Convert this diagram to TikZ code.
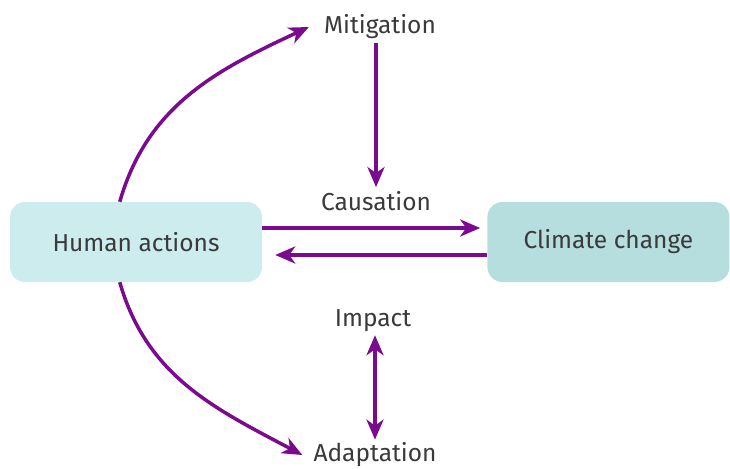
\documentclass[tikz,border=0pt]{standalone}
\usepackage{fontspec}
\setmainfont{Fira Sans}
\usepackage{tikz}
\usetikzlibrary{arrows.meta,positioning}
\definecolor{arrowpurple}{HTML}{7A0A8E}
\definecolor{humanfill}{HTML}{CDECEE}
\definecolor{climatefill}{HTML}{B6DEDF}
\definecolor{textgray}{HTML}{3A3A3A}

\begin{document}
\begin{tikzpicture}[x=1pt,y=-1pt,
  box/.style={rounded corners=15pt,minimum width=252pt,minimum height=80pt,
    inner sep=0pt,font=\fontsize{24.5}{28}\selectfont,text=textgray},
  lbl/.style={font=\fontsize{24.5}{28}\selectfont,text=textgray,inner sep=3pt},
  arr/.style={-{Stealth[length=20pt,width=17pt,inset=6pt]},line width=3.5pt,
    draw=arrowpurple},
  dblarr/.style={{Stealth[length=20pt,width=17pt,inset=6pt]}-{Stealth[length=20pt,width=17pt,inset=6pt]},
    line width=3.5pt,draw=arrowpurple}
]
\useasboundingbox (0,0) rectangle (730,468);

\node[box,fill=humanfill] (human) at (136,242) {Human actions};
\node[box,fill=climatefill,minimum width=242pt,right=225pt of human] (climate)
  {Climate change};

\node[lbl] (causation) at (376,201) {Causation};
\node[lbl] (mitigation) at (380,27) {Mitigation};
\node[lbl] (impact) at (373,321) {Impact};
\node[lbl] (adaptation) at (375,455) {Adaptation};

\draw[arr] ([yshift=14pt]human.east) -- ([yshift=14pt,xshift=-7pt]climate.west);
\draw[arr] ([yshift=-13pt]climate.west) -- ([yshift=-13pt,xshift=13pt]human.east);
\draw[arr,shorten <=1pt,shorten >=1pt] (mitigation.south -| causation) -- (causation.north);
\draw[dblarr] (impact.south -| adaptation) -- (adaptation.north);
\draw[arr] (human.112) to[out=74,in=205] ([xshift=-12pt]mitigation.west);
\draw[arr] (human.248) to[out=-74,in=152] ([xshift=-8pt]adaptation.west);
\end{tikzpicture}
\end{document}
